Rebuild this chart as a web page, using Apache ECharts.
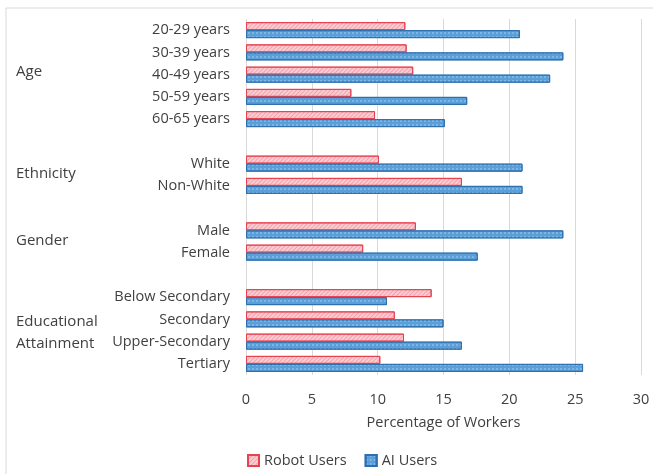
<!DOCTYPE html>
<html>
<head>
<meta charset="utf-8">
<script src="https://cdn.jsdelivr.net/npm/echarts@6/dist/echarts.min.js"></script>
<style>
html,body{margin:0;padding:0;background:#fff;}
#chart{width:653px;height:474px;}
</style>
</head>
<body>
<div id="chart"></div>
<script>
const categories = ['20-29 years','30-39 years','40-49 years','50-59 years','60-65 years',' ',
  'White','Non-White','  ','Male','Female','   ',
  'Below Secondary','Secondary','Upper-Secondary','Tertiary'];
const robotUsers = [12.1,12.2,12.7,8.0,9.8,null,10.1,16.4,null,12.9,8.9,null,14.1,11.3,12.0,10.2];
const aiUsers = [20.8,24.1,23.1,16.8,15.1,null,21.0,21.0,null,24.1,17.6,null,10.7,15.0,16.4,25.6];
const groupLabels = [
  {text:'Age', y:72},
  {text:'Ethnicity', y:174},
  {text:'Gender', y:241},
  {text:'Educational\nAttainment', y:333}
];
const FONT = 'Open Sans';
const TXT = '#404040';
const FS = 14.5;

const robotDecal = {
  symbol:'rect', symbolSize:1, dashArrayX:[1,0], dashArrayY:[1,1.5],
  rotation:-Math.PI/4, color:'rgba(232,80,100,0.35)'
};
const aiDecal = {
  symbol:'rect', symbolSize:0.8, dashArrayX:[[2,2]], dashArrayY:[2,2],
  rotation:0, color:'rgba(210,235,255,0.5)'
};

const chart = echarts.init(document.getElementById('chart'));
chart.setOption({
  animation:false,
  textStyle:{fontFamily:FONT, color:TXT},
  grid:{left:246, right:12, top:19, bottom:99, containLabel:false},
  legend:{
    bottom:1, left:242, itemWidth:11, itemHeight:11, itemGap:18, icon:'rect',
    textStyle:{fontFamily:FONT, fontSize:FS, color:TXT},
    data:['Robot Users','AI Users']
  },
  xAxis:{
    type:'value', min:0, max:30, interval:5,
    name:'Percentage of Workers', nameLocation:'middle', nameGap:40,
    nameTextStyle:{fontFamily:FONT, fontSize:FS, color:TXT},
    axisLabel:{fontFamily:FONT, fontSize:FS, color:TXT, margin:17},
    axisLine:{show:false}, axisTick:{show:false},
    splitLine:{lineStyle:{color:'#d9d9d9', width:1}}
  },
  yAxis:{
    type:'category', data:categories, inverse:true,
    axisLine:{show:false}, axisTick:{show:false},
    axisLabel:{fontFamily:FONT, fontSize:FS, color:TXT, margin:16, interval:0}
  },
  series:[
    {name:'Robot Users', type:'bar', data:robotUsers, barWidth:8, barGap:'0%',
     itemStyle:{color:'#f9cdd2', borderColor:'#e8414f', borderWidth:1, decal:robotDecal}},
    {name:'AI Users', type:'bar', data:aiUsers, barWidth:8, barGap:'0%',
     itemStyle:{color:'#5b9fd9', borderColor:'#2f6fae', borderWidth:1, decal:aiDecal}}
  ],
  graphic:[
    {type:'polyline', shape:{points:[[6,474],[6,8],[653,8]]},
     style:{stroke:'#d9d9d9', lineWidth:1, fill:null}, silent:true}
  ].concat(groupLabels.map(g => ({
    type:'text', left:16, top:g.y - (g.text.indexOf('\n')>=0 ? 22 : 11),
    style:{text:g.text, font:'15px "' + FONT + '"', fill:TXT, lineHeight:22}
  })))
});
</script>
</body>
</html>
